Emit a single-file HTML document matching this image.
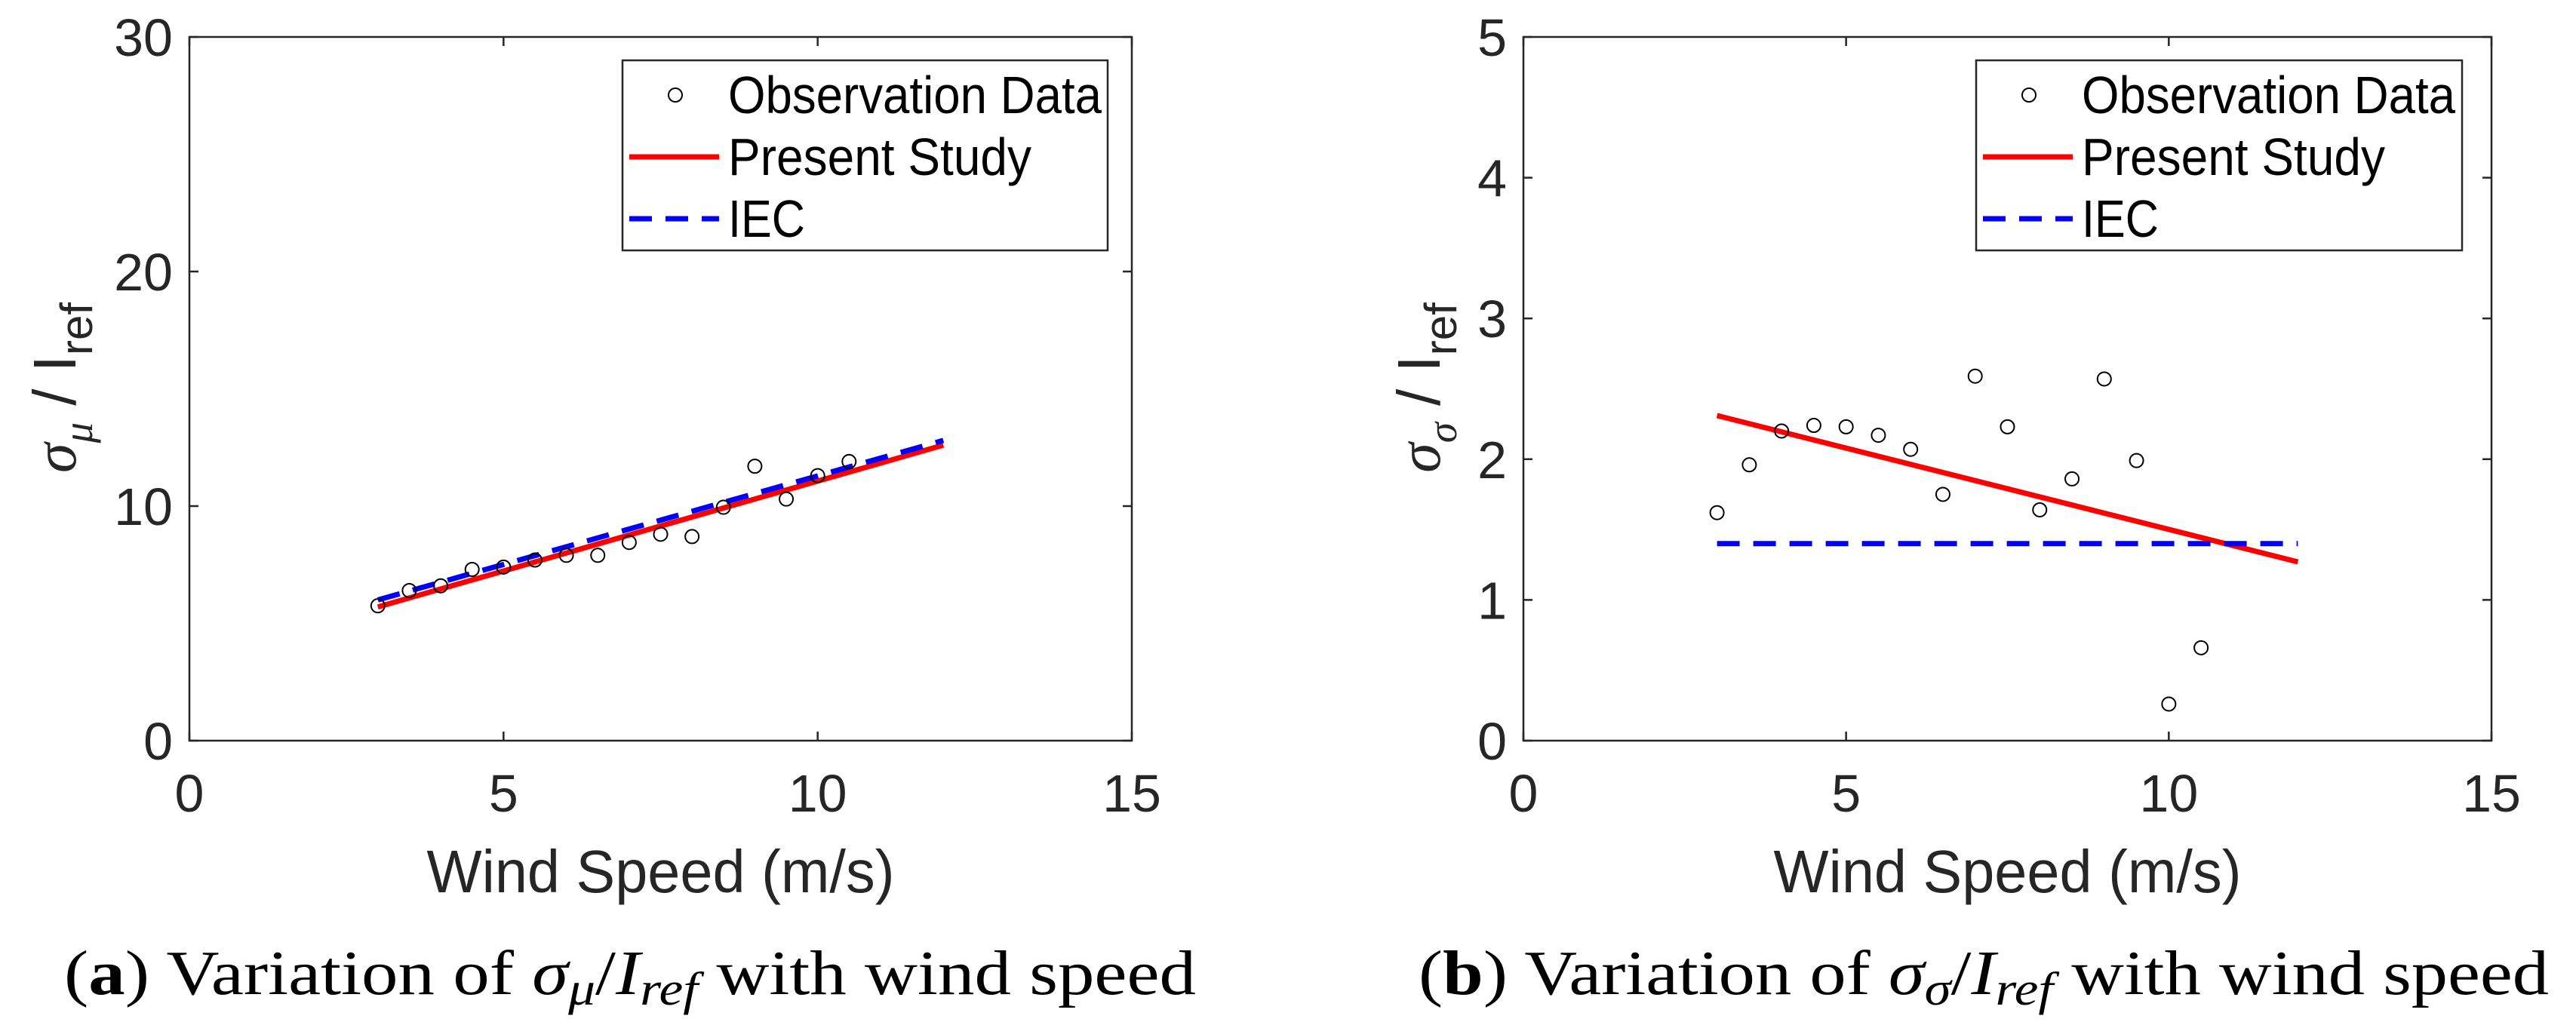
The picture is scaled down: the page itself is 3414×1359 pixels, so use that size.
<!DOCTYPE html>
<html><head><meta charset="utf-8"><style>
html,body{margin:0;padding:0;background:#fff;}
svg{display:block;}
</style></head><body>
<svg id="fig" width="3414" height="1359" viewBox="0 0 3414 1359" xmlns="http://www.w3.org/2000/svg"></svg>
<script>
const xTicks=[0,5,10,15];
const yTicksA=[0,10,20,30];
const yTicksB=[0,1,2,3,4,5];
const windA=[3,3.5,4,4.5,5,5.5,6,6.5,7,7.5,8,8.5,9,9.5,10,10.5];
const obsA=[5.75,6.4,6.6,7.3,7.4,7.7,7.9,7.9,8.45,8.8,8.7,9.95,11.7,10.3,11.3,11.9];
const presentXA=[3,12];
const presentA=[5.7,12.6];
const iecXA=[3,12];
const iecA=[6.0,12.8];
const windB=[3,3.5,4,4.5,5,5.5,6,6.5,7,7.5,8,8.5,9,9.5,10,10.5];
const obsB=[1.62,1.96,2.2,2.24,2.23,2.17,2.07,1.75,2.59,2.23,1.64,1.86,2.57,1.99,0.26,0.66];
const presentXB=[3,12];
const presentB=[2.31,1.27];
const iecXB=[3,12];
const iecB=[1.4,1.4];

const NS="http://www.w3.org/2000/svg";
const svg=document.getElementById('fig');
function mk(tag,attrs,parent){const e=document.createElementNS(NS,tag);for(const k in attrs)e.setAttribute(k,attrs[k]);(parent||svg).appendChild(e);return e;}

function panel(id,L,R,T,B,ymax,yTicks,wind,obs,px,py,ix,iy,legL,legR,ylabSub,ylabX,cap,capX0,capX1){
  const g=mk('g',{});
  
  
  const sx=v=>L+(v-0)/(15-0)*(R-L);
  const sy=v=>B-(v/ymax)*(B-T);
  const frame=mk('rect',{x:L,y:T,width:R-L,height:B-T,fill:'#fff',stroke:'#262626','stroke-width':2.5},g);
  
  
  xTicks.forEach(t=>{
    const x=sx(t);
    mk('line',{x1:x,y1:B,x2:x,y2:B-12,stroke:'#262626','stroke-width':2.5},g);
    mk('line',{x1:x,y1:T,x2:x,y2:T+12,stroke:'#262626','stroke-width':2.5},g);
    const tx=mk('text',{x:x,y:B+94,'font-family':'Liberation Sans, sans-serif','font-size':70,fill:'#262626','text-anchor':'middle'},g);
    tx.textContent=t;
    
    
  });
  yTicks.forEach(t=>{
    const y=sy(t);
    mk('line',{x1:L,y1:y,x2:L+12,y2:y,stroke:'#262626','stroke-width':2.5},g);
    mk('line',{x1:R,y1:y,x2:R-12,y2:y,stroke:'#262626','stroke-width':2.5},g);
    const ty=mk('text',{x:L-22,y:y+25,'font-family':'Liberation Sans, sans-serif','font-size':70,fill:'#262626','text-anchor':'end'},g);
    ty.textContent=t;
    
    
  });
  // lines
  const pl=mk('line',{x1:sx(px[0]),y1:sy(py[0]),x2:sx(px[1]),y2:sy(py[1]),stroke:'#ff0000','stroke-width':7},g);
  
  
  const il=mk('line',{x1:sx(ix[0]),y1:sy(iy[0]),x2:sx(ix[1]),y2:sy(iy[1]),stroke:'#0000ff','stroke-width':7,'stroke-dasharray':'30 18'},g);
  
  
  wind.forEach((w,i)=>{
    const c=mk('circle',{cx:sx(w),cy:sy(obs[i]),r:9,fill:'none',stroke:'#000','stroke-width':2},g);
    
    
  });
  // legend
  const lg=mk('g',{},g);
  
  
  mk('rect',{x:legL,y:80,width:legR-legL,height:252,fill:'#fff',stroke:'#262626','stroke-width':2.5},lg);
  mk('circle',{cx:legL+70,cy:126,r:9,fill:'none',stroke:'#000','stroke-width':2},lg);
  mk('line',{x1:legL+9,y1:208,x2:legL+128,y2:208,stroke:'#ff0000','stroke-width':7},lg);
  mk('line',{x1:legL+9,y1:290,x2:legL+128,y2:290,stroke:'#0000ff','stroke-width':7,'stroke-dasharray':'30 18'},lg);
  const labels=[['Observation Data',150,495],['Present Study',232,402],['IEC',314,102]];
  labels.forEach(l=>{
    const t=mk('text',{x:legL+140,y:l[1],'font-family':'Liberation Sans, sans-serif','font-size':70,fill:'#000',textLength:l[2],lengthAdjust:'spacingAndGlyphs'},lg);
    t.textContent=l[0];
    
    
  });
  // x axis title
  const xt=mk('text',{x:(L+R)/2,y:1183,'font-family':'Liberation Sans, sans-serif','font-size':80,fill:'#262626','text-anchor':'middle',textLength:620,lengthAdjust:'spacingAndGlyphs'},g);
  xt.textContent='Wind Speed (m/s)';
  
  
  // y axis title
  const yt=mk('text',{transform:`translate(${ylabX},514) rotate(-90)`,'font-family':'Liberation Sans, sans-serif','font-size':80,fill:'#262626','text-anchor':'middle'},g);
  
  
  const s1=mk('tspan',{'font-family':'Liberation Serif, serif','font-style':'italic'},yt);s1.textContent='σ';
  const s2=mk('tspan',{'font-family':'Liberation Serif, serif','font-style':'italic','font-size':55,dy:22},yt);s2.textContent=ylabSub;
  const s3=mk('tspan',{dy:-22},yt);s3.textContent=' / I';
  const s4=mk('tspan',{'font-size':60,dy:22},yt);s4.textContent='ref';
  // caption
  const ct=mk('text',{x:capX0,y:1318,'font-family':'Liberation Serif, serif','font-size':84,fill:'#000',textLength:capX1-capX0,lengthAdjust:'spacingAndGlyphs'},g);
  
  
  const c1=mk('tspan',{},ct);c1.textContent='(';
  const c2=mk('tspan',{'font-weight':'bold'},ct);c2.textContent=cap;
  const c3=mk('tspan',{},ct);c3.textContent=') Variation of  ';
  const c4=mk('tspan',{'font-style':'italic'},ct);c4.textContent='σ';
  const c5=mk('tspan',{'font-style':'italic','font-size':62,dy:14},ct);c5.textContent=ylabSub;
  const c6=mk('tspan',{dy:-14},ct);c6.textContent='/';
  const c7=mk('tspan',{'font-style':'italic'},ct);c7.textContent='I';
  const c8=mk('tspan',{'font-style':'italic','font-size':62,dy:14},ct);c8.textContent='ref';
  const c9=mk('tspan',{dy:-14},ct);c9.textContent='  with wind speed';
}
panel('a',251,1500,49,982,30,yTicksA,windA,obsA,presentXA,presentA,iecXA,iecA,825,1468,'μ',100,'a',85,1585);
panel('b',2019,3302,49,982,5,yTicksB,windB,obsB,presentXB,presentB,iecXB,iecB,2619,3263,'σ',1908,'b',1880,3378);
</script>
</body></html>
